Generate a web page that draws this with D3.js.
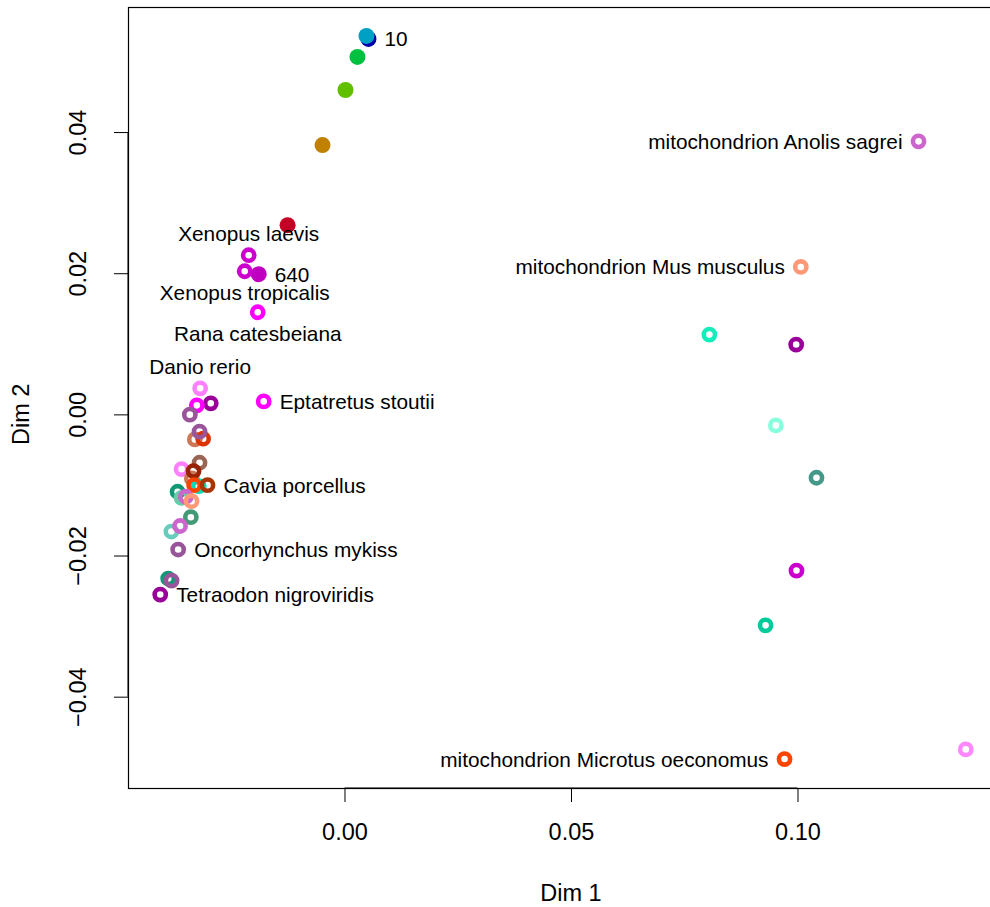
<!DOCTYPE html>
<html>
<head>
<meta charset="utf-8">
<script src="https://cdn.jsdelivr.net/npm/d3@7"></script>
<style>
  body { margin: 0; background: #fff; }
  text { font-family: "Liberation Sans", Arial, sans-serif; fill: #000; }
</style>
</head>
<body>
<div id="vis"></div>
<script>
// MDS coordinates, one entry per sequence
var dim1 = [0.00529, 0.00485, 0.00286, 0.00022, -0.00485, -0.01256, -0.01894,
    -0.02115, -0.02203, -0.01916, -0.03187, -0.02952, -0.03260, -0.03414, -0.01784,
    -0.03304, -0.03121, -0.03200, -0.03200, -0.03597, -0.03370, -0.03333, -0.03216,
    -0.03319, -0.03024, -0.03685, -0.03597, -0.03502, -0.03377, -0.03392, -0.03822,
    -0.03630, -0.03672, -0.03892, -0.03817, -0.04068,
    0.12672, 0.10073, 0.08055, 0.09971, 0.09522, 0.10419, 0.09978, 0.09295, 0.13715, 0.09714];

var dim2 = [0.05319, 0.05362, 0.05064, 0.04596, 0.03816, 0.02681, 0.01986,
    0.02255, 0.02028, 0.01447, 0.00369, 0.00156, 0.00128, -0.00004, 0.00184,
    -0.00355, -0.00345, -0.00245, -0.00685, -0.00776, -0.00908, -0.00804, -0.01017,
    -0.01003, -0.01003, -0.01096, -0.01182, -0.01167, -0.01230, -0.01457, -0.01660,
    -0.01582, -0.01915, -0.02326, -0.02355, -0.02553,
    0.03868, 0.02089, 0.01130, 0.00989, -0.00156, -0.00898, -0.02213, -0.02989, -0.04747, -0.04884];

var pointColors = ["#0000b0", "#00a0c4", "#00c040", "#60c000", "#c08000", "#c40024", "#c000c0",
    "#cc00cc", "#cc00cc", "#ff00ff", "#ff80ff", "#990099", "#ff00ff", "#995599", "#ff00ff",
    "#cc7755", "#dd3300", "#995599", "#996655", "#ff80ff", "#cc7755", "#992200", "#00ddbb",
    "#ff4400", "#aa3300", "#119977", "#66ccaa", "#cc66cc", "#ff9977", "#449977", "#66ccbb",
    "#cc66cc", "#995599", "#119977", "#995599", "#990099",
    "#cc66cc", "#ff9977", "#11eebb", "#990099", "#88ffdd", "#449988", "#cc00cc", "#00cc99", "#ff88ff", "#ff4400"];

// first seven are the solid (pch 19) points
var solidCount = 7;

// labels: text, index of the point, side (1 below, 2 left, 3 above, 4 right)
var labelTexts = ["10", "640", "Xenopus laevis", "Xenopus tropicalis", "Rana catesbeiana",
    "Danio rerio", "Eptatretus stoutii", "Cavia porcellus", "Oncorhynchus mykiss",
    "Tetraodon nigroviridis", "mitochondrion Anolis sagrei", "mitochondrion Mus musculus",
    "mitochondrion Microtus oeconomus"];
var labelPoints = [0, 6, 7, 8, 9, 10, 14, 24, 32, 35, 36, 37, 45];
var labelSides = [4, 4, 3, 1, 1, 3, 4, 4, 4, 4, 2, 2, 2];

var xTicks = [0.00, 0.05, 0.10];
var yTicks = [-0.04, -0.02, 0.00, 0.02, 0.04];

var width = 990;
var height = 907;

var margin = {
    top: 7,
    bottom: 119,
    left: 128,
    right: -8
};

var svg = d3.select('#vis')
    .append('svg')
    .attr('width', width)
    .attr('height', height);

svg.append('rect')
    .attr('width', width)
    .attr('height', height)
    .attr('fill', '#fff');

// R style range: data extent padded by 4% each side
function padded(vals) {
    var e = d3.extent(vals);
    var p = (e[1] - e[0]) * 0.04;
    return [e[0] - p, e[1] + p];
}

var x_scale = d3.scaleLinear()
    .domain(padded(dim1))
    .range([margin.left, width - margin.right]);

var y_scale = d3.scaleLinear()
    .domain(padded(dim2))
    .range([height - margin.bottom, margin.top]);

var fmt = d3.format('.2f');
function rfmt(v) {
    return fmt(v).replace('-', '\u2212');
}

var x_axis = d3.axisBottom(x_scale)
    .tickValues(xTicks)
    .tickSize(14)
    .tickSizeOuter(0)
    .tickFormat(rfmt);

var y_axis = d3.axisLeft(y_scale)
    .tickValues(yTicks)
    .tickSize(14)
    .tickSizeOuter(0)
    .tickFormat(rfmt);

var gx = svg.append('g')
    .attr('class', 'x axis')
    .attr('transform', 'translate(0,' + (height - margin.bottom) + ')')
    .call(x_axis);

gx.select('.domain')
    .attr('d', 'M' + x_scale(xTicks[0]) + ',0H' + x_scale(xTicks[xTicks.length - 1]));
gx.selectAll('text')
    .style('font-size', '23.5px')
    .attr('dy', null)
    .attr('y', 44)
    .attr('dominant-baseline', 'central');

var gy = svg.append('g')
    .attr('class', 'y axis')
    .attr('transform', 'translate(' + margin.left + ',0)')
    .call(y_axis);

gy.select('.domain')
    .attr('d', 'M0,' + y_scale(yTicks[0]) + 'V' + y_scale(yTicks[yTicks.length - 1]));
gy.selectAll('.tick text')
    .style('font-size', '23.5px')
    .attr('x', null)
    .attr('dy', '0.36em')
    .attr('text-anchor', 'middle')
    .attr('transform', 'translate(-50,0) rotate(-90)');

svg.selectAll('.domain, .tick line')
    .attr('stroke', '#000')
    .attr('stroke-width', 1);

// plot box
svg.append('rect')
    .attr('x', margin.left + 0.5)
    .attr('y', margin.top + 0.5)
    .attr('width', width - margin.right - margin.left)
    .attr('height', height - margin.bottom - margin.top)
    .attr('fill', 'none')
    .attr('stroke', '#000')
    .attr('stroke-width', 1.2);

// axis titles
svg.append('text')
    .attr('x', x_scale(0.05))
    .attr('y', 893)
    .attr('dominant-baseline', 'central')
    .style('text-anchor', 'middle')
    .style('font-size', '23.5px')
    .text('Dim 1');

svg.append('text')
    .attr('transform', 'translate(21,' + y_scale(0) + ') rotate(-90)')
    .attr('dy', '0.36em')
    .style('text-anchor', 'middle')
    .style('font-size', '23.5px')
    .text('Dim 2');

var points = d3.range(dim1.length);

svg.selectAll('.pt')
    .data(points)
    .enter()
    .append('circle')
    .attr('class', 'pt')
    .attr('cx', function(i) { return x_scale(dim1[i]); })
    .attr('cy', function(i) { return y_scale(dim2[i]); })
    .attr('r', function(i) { return i < solidCount ? 8 : 5.6; })
    .attr('fill', function(i) { return i < solidCount ? pointColors[i] : 'none'; })
    .attr('stroke', function(i) { return i < solidCount ? 'none' : pointColors[i]; })
    .attr('stroke-width', 4.6);

var offX = 16, offY = 21.5;

svg.selectAll('.lbl')
    .data(labelTexts)
    .enter()
    .append('text')
    .attr('class', 'lbl')
    .style('font-size', '20.8px')
    .attr('dominant-baseline', 'central')
    .attr('x', function(d, k) {
        var px = x_scale(dim1[labelPoints[k]]);
        if (labelSides[k] == 4) return px + offX;
        if (labelSides[k] == 2) return px - offX;
        return px;
    })
    .attr('y', function(d, k) {
        var py = y_scale(dim2[labelPoints[k]]);
        if (labelSides[k] == 1) return py + offY;
        if (labelSides[k] == 3) return py - offY;
        return py;
    })
    .style('text-anchor', function(d, k) {
        if (labelSides[k] == 4) return 'start';
        if (labelSides[k] == 2) return 'end';
        return 'middle';
    })
    .text(function(d) { return d; });
</script>
</body>
</html>
